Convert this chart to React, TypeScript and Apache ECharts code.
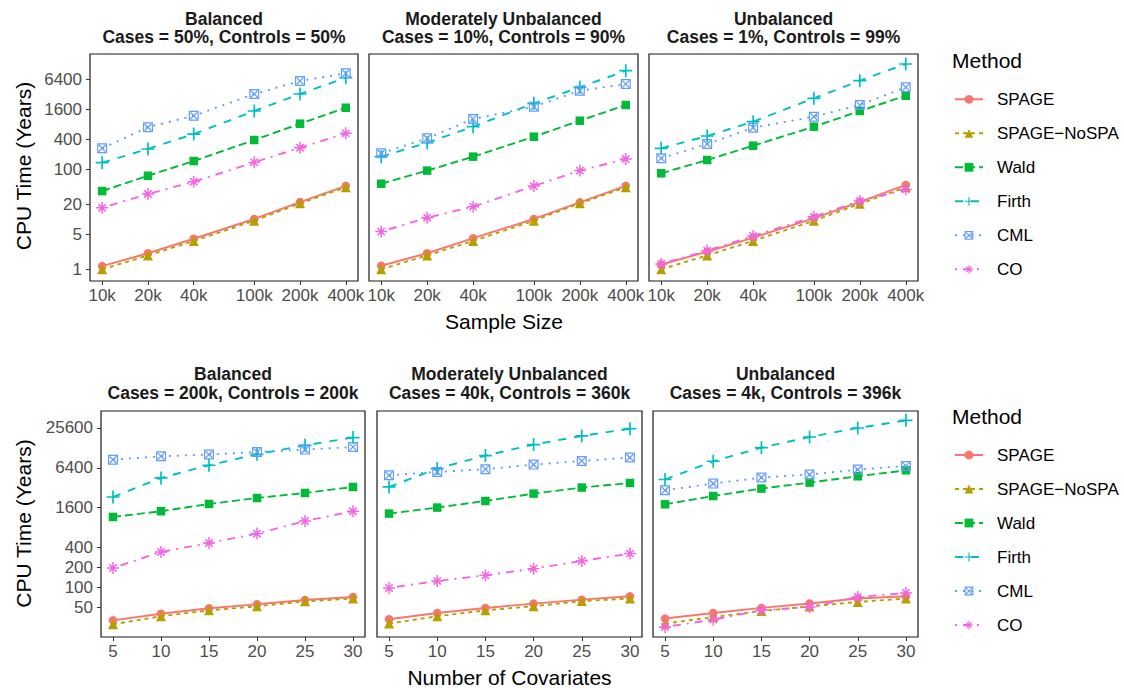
import React, { useEffect, useRef } from "react";
import * as echarts from "echarts";

const methods = ["SPAGE", "SPAGE−NoSPA", "Wald", "Firth", "CML", "CO"];
const sampleSizes = [10000, 20000, 40000, 100000, 200000, 400000];
const covariates = [5, 10, 15, 20, 25, 30];
const topYTicks = [1, 5, 20, 100, 400, 1600, 6400];
const bottomYTicks = [50, 100, 200, 400, 1600, 6400, 25600];
const topTitles = [
  "Balanced\nCases = 50%, Controls = 50%",
  "Moderately Unbalanced\nCases = 10%, Controls = 90%",
  "Unbalanced\nCases = 1%, Controls = 99%",
];
const bottomTitles = [
  "Balanced\nCases = 200k, Controls = 200k",
  "Moderately Unbalanced\nCases = 40k, Controls = 360k",
  "Unbalanced\nCases = 4k, Controls = 396k",
];

// values in method order: SPAGE, SPAGE-NoSPA, Wald, Firth, CML, CO
const sizeBalanced = [
  [1.16, 2.1, 4.1, 10.2, 22.3, 47],
  [1.0, 1.9, 3.7, 9.4, 21, 44],
  [37, 75, 148, 390, 828, 1730],
  [137, 258, 514, 1487, 3260, 6920],
  [266, 701, 1197, 3260, 5940, 8470],
  [17.1, 32.3, 57, 139, 273, 531],
];
const sizeModerate = [
  [1.18, 2.1, 4.2, 10.2, 22, 47],
  [1.0, 1.9, 3.7, 9.4, 21, 44],
  [52, 95, 181, 454, 951, 1963],
  [181, 344, 721, 2120, 4440, 9550],
  [211, 422, 1028, 1815, 3790, 5170],
  [5.7, 10.8, 18, 46.7, 95, 162],
];
const sizeUnbalanced = [
  [1.25, 2.25, 4.3, 10.5, 22.5, 49],
  [1.0, 1.9, 3.7, 9.4, 20.5, 44],
  [84, 155, 300, 721, 1487, 3010],
  [266, 469, 908, 2670, 6020, 13000],
  [168, 324, 689, 1143, 1963, 4440],
  [1.28, 2.36, 4.65, 11.3, 23.4, 40],
];
const covBalanced = [
  [31.8, 40, 48.3, 55.6, 64.6, 71.7],
  [27.7, 36.6, 45, 51.8, 61.6, 67.8],
  [1160, 1413, 1820, 2240, 2670, 3290],
  [2320, 4500, 7000, 10250, 14000, 18300],
  [8490, 9570, 10150, 11100, 12070, 13200],
  [196, 343, 469, 649, 1006, 1413],
];
const covModerate = [
  [33, 41, 48.9, 56.9, 65.3, 73.3],
  [28.4, 36.6, 45, 52, 62, 68],
  [1303, 1606, 2020, 2610, 3220, 3780],
  [3290, 6240, 9800, 14360, 19400, 25000],
  [4940, 5550, 6090, 7160, 8130, 9150],
  [98, 125, 152, 192, 251, 324],
];
const covUnbalanced = [
  [33.8, 41, 49, 57, 67.8, 73.3],
  [28.4, 35.7, 44, 51.6, 60.3, 67.8],
  [1800, 2400, 3110, 3830, 4770, 5870],
  [4260, 8040, 12900, 18700, 25600, 33400],
  [2930, 3700, 4560, 5060, 6020, 6830],
  [25.2, 32.6, 45, 50.6, 71.6, 82.4],
];

const colors = ["#F8766D", "#B79F00", "#00BA38", "#00BFC4", "#619CFF", "#F564E3"];
const dashes: any[] = ["solid", [4, 4], [8, 4], [8, 8], [2, 6], [2, 6, 8, 6]];
const PLUS = "path://M4.35,0H5.65V4.35H10V5.65H5.65V10H4.35V5.65H0V4.35H4.35Z";
const STAR =
  "path://M4.4,0H5.6V4.4H10V5.6H5.6V10H4.4V5.6H0V4.4H4.4Z" +
  "M1.5,2.4L2.4,1.5L8.5,7.6L7.6,8.5Z" +
  "M7.6,1.5L8.5,2.4L2.4,8.5L1.5,7.6Z";
const SQX =
  "path://M0,0H10V10H0Z" +
  "M1.2,1.2V8.8H8.8V1.2Z" +
  "M1.2,2.1L2.1,1.2L8.8,7.9L7.9,8.8Z" +
  "M7.9,1.2L8.8,2.1L2.1,8.8L1.2,7.9Z";
const symbols = ["circle", "triangle", "rect", PLUS, SQX, STAR];
const symbolSizes = [8.5, 10, 8.5, 13, 10, 12];

const FONT = "Liberation Sans, Arial, Helvetica, sans-serif";

export default function App() {
  const ref = useRef<HTMLDivElement>(null);
  useEffect(() => {
    if (!ref.current) return;
    const chart = echarts.init(ref.current, null, { renderer: "svg" });

    const topLefts = [90, 369, 649];
    const topWidths = [268, 269, 269];
    const botLefts = [101, 377, 653];
    const botWidths = [264, 265, 265];
    const panels = [
      { data: sizeBalanced, row: 0, col: 0 },
      { data: sizeModerate, row: 0, col: 1 },
      { data: sizeUnbalanced, row: 0, col: 2 },
      { data: covBalanced, row: 1, col: 0 },
      { data: covModerate, row: 1, col: 1 },
      { data: covUnbalanced, row: 1, col: 2 },
    ];

    const grid: any[] = [];
    const xAxis: any[] = [];
    const yAxis: any[] = [];
    const series: any[] = [];
    const graphic: any[] = [];

    const tickStyle = { show: true, inside: false, length: 4, lineStyle: { color: "#333", width: 1 } };
    const labelStyle = { color: "#4D4D4D", fontSize: 17, fontFamily: FONT };

    panels.forEach((p, i) => {
      const top = p.row === 0;
      const left = top ? topLefts[p.col] : botLefts[p.col];
      const width = top ? topWidths[p.col] : botWidths[p.col];
      grid.push({
        left,
        width,
        top: top ? 54 : 411,
        height: top ? 227 : 226,
        show: true,
        borderColor: "#1a1a1a",
        borderWidth: 1.2,
        backgroundColor: "transparent",
        containLabel: false,
      });
      xAxis.push(
        top
          ? {
              type: "log",
              logBase: 10,
              gridIndex: i,
              min: 8318,
              max: 481000,
              axisLine: { show: false },
              splitLine: { show: false },
              axisTick: { ...tickStyle, customValues: sampleSizes },
              axisLabel: {
                ...labelStyle,
                margin: 6,
                customValues: sampleSizes,
                formatter: (v: number) => Math.round(v / 1000) + "k",
              },
            }
          : {
              type: "value",
              gridIndex: i,
              min: 3.75,
              max: 31.25,
              axisLine: { show: false },
              splitLine: { show: false },
              axisTick: { ...tickStyle, customValues: covariates },
              axisLabel: { ...labelStyle, margin: 6, customValues: covariates },
            }
      );
      const yt = top ? topYTicks : bottomYTicks;
      yAxis.push({
        type: "log",
        logBase: 10,
        gridIndex: i,
        min: top ? 0.583 : 17.8,
        max: top ? 20650 : 46200,
        axisLine: { show: false },
        splitLine: { show: false },
        axisTick: p.col === 0 ? { ...tickStyle, customValues: yt } : { show: false },
        axisLabel:
          p.col === 0
            ? { ...labelStyle, margin: 8, customValues: yt, formatter: (v: number) => String(Math.round(v)) }
            : { show: false },
      });
      const xs = top ? sampleSizes : covariates;
      p.data.forEach((vals, m) => {
        series.push({
          type: "line",
          name: methods[m],
          xAxisIndex: i,
          yAxisIndex: i,
          data: xs.map((x, k) => [x, vals[k]]),
          symbol: symbols[m],
          symbolSize: symbolSizes[m],
          showSymbol: true,
          lineStyle: { color: colors[m], width: 1.9, type: dashes[m], cap: "butt" },
          itemStyle: { color: colors[m] },
          z: 2 + m,
          silent: true,
          emphasis: { disabled: true },
        });
      });
      const cx = left + width / 2;
      graphic.push({
        type: "text",
        x: cx,
        y: top ? 28 : 383.5,
        style: {
          text: (top ? topTitles : bottomTitles)[p.col],
          font: `bold 17.5px ${FONT}`,
          fill: "#1a1a1a",
          textAlign: "center",
          textVerticalAlign: "middle",
          lineHeight: 18.5,
        },
      });
    });

    const axisTitle = (text: string, x: number, y: number, rot = 0) => ({
      type: "text",
      x,
      y,
      rotation: rot,
      style: { text, font: `21px ${FONT}`, fill: "#000", textAlign: "center", textVerticalAlign: "middle" },
    });
    graphic.push(axisTitle("CPU Time (Years)", 23, 166, Math.PI / 2));
    graphic.push(axisTitle("CPU Time (Years)", 23, 523.5, Math.PI / 2));
    graphic.push(axisTitle("Sample Size", 504, 321));
    graphic.push(axisTitle("Number of Covariates", 509.5, 677));
    graphic.push({
      type: "text",
      x: 952,
      y: 60.5,
      style: { text: "Method", font: `21px ${FONT}`, fill: "#000", textAlign: "left", textVerticalAlign: "middle" },
    });
    graphic.push({
      type: "text",
      x: 952,
      y: 416,
      style: { text: "Method", font: `21px ${FONT}`, fill: "#000", textAlign: "left", textVerticalAlign: "middle" },
    });

    const legend = [99.3, 455].map((cy) => ({
      orient: "vertical",
      left: 954,
      top: cy - 8.5,
      itemWidth: 28,
      itemHeight: 11,
      itemGap: 17,
      padding: 0,
      selectedMode: false,
      data: methods,
      textStyle: { fontSize: 17, fontFamily: FONT, color: "#000", padding: [0, 0, 0, 9] },
    }));

    chart.setOption({
      animation: false,
      backgroundColor: "#fff",
      grid,
      xAxis,
      yAxis,
      series,
      legend,
      graphic,
    });
    return () => chart.dispose();
  }, []);
  return (
    <div
      ref={ref}
      style={{ position: "fixed", left: 0, top: 0, width: 1124, height: 690 }}
    />
  );
}
